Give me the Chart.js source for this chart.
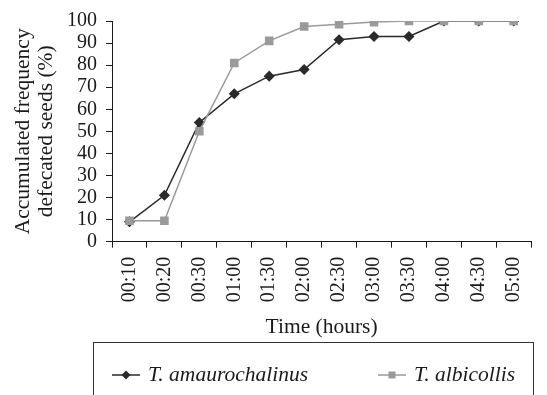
<!DOCTYPE html>
<html>
<head>
<meta charset="utf-8">
<style>
  html, body { margin: 0; padding: 0; background: #fff; }
  #wrap { width: 547px; height: 395px; }
</style>
</head>
<body>
<div id="wrap"><canvas id="seedChart" width="547" height="395"></canvas></div>

<script src="https://cdn.jsdelivr.net/npm/chart.js@4/dist/chart.umd.min.js"></script>
<script>
/* data */
var timeLabels = ["00:10", "00:20", "00:30", "01:00", "01:30", "02:00", "02:30", "03:00", "03:30", "04:00", "04:30", "05:00"];
var amaurochalinus = [9, 21, 54, 67, 75, 78, 91.5, 93, 93, 100, 100, 100];
var albicollis = [9.5, 9.5, 50, 81, 91, 97.5, 98.5, 99.5, 100, 100, 100, 100];
var yTicks = [0, 10, 20, 30, 40, 50, 60, 70, 80, 90, 100];

var serif = "'Liberation Serif', 'Times New Roman', serif";
var ink = "#1a1a1a";
var darkCol = "#2a2a2a";
var greyCol = "#9a9a9a";

/* bordered legend under the axis title, drawn like the original */
var boxLegend = {
    id: 'boxLegend',
    afterDraw: function (chart) {
        var ctx = chart.ctx;
        ctx.save();
        ctx.strokeStyle = "#333";
        ctx.lineWidth = 1;
        ctx.strokeRect(93.5, 342.5, 440, 70);

        var items = [
            { ds: chart.data.datasets[1], x: 112 },
            { ds: chart.data.datasets[0], x: 378 }
        ];
        var y = 375;
        items.forEach(function (it) {
            ctx.strokeStyle = it.ds.borderColor;
            ctx.lineWidth = 1.5;
            ctx.beginPath();
            ctx.moveTo(it.x, y);
            ctx.lineTo(it.x + 28, y);
            ctx.stroke();
            ctx.fillStyle = it.ds.pointBackgroundColor;
            var cx = it.x + 14;
            ctx.beginPath();
            if (it.ds.pointStyle === 'rectRot') {
                ctx.moveTo(cx, y - 4.5);
                ctx.lineTo(cx + 4.5, y);
                ctx.lineTo(cx, y + 4.5);
                ctx.lineTo(cx - 4.5, y);
                ctx.closePath();
            } else {
                ctx.rect(cx - 3.5, y - 3.5, 7, 7);
            }
            ctx.fill();
            ctx.fillStyle = ink;
            ctx.font = "italic 21.5px " + serif;
            ctx.textBaseline = "middle";
            ctx.textAlign = "left";
            ctx.fillText(it.ds.label, it.x + 36, y);
        });
        ctx.restore();
    }
};

var ctx = document.getElementById("seedChart");
var myChart = new Chart(ctx, {
    type: 'line',
    data: {
        labels: timeLabels,
        datasets: [{
            label: "T. albicollis",
            data: albicollis,
            order: 0,
            borderColor: greyCol,
            backgroundColor: greyCol,
            pointBackgroundColor: greyCol,
            pointBorderColor: greyCol,
            pointStyle: 'rect',
            pointRadius: 5,
            borderWidth: 1.5,
            tension: 0
        }, {
            label: "T. amaurochalinus",
            data: amaurochalinus,
            order: 1,
            borderColor: darkCol,
            backgroundColor: darkCol,
            pointBackgroundColor: darkCol,
            pointBorderColor: darkCol,
            pointStyle: 'rectRot',
            pointRadius: 4.5,
            borderWidth: 1.5,
            tension: 0
        }]
    },
    options: {
        responsive: false,
        animation: false,
        events: [],
        layout: { padding: { left: 12, right: 3, top: 12, bottom: 55 } },
        plugins: {
            legend: { display: false },
            tooltip: { enabled: false }
        },
        scales: {
            x: {
                offset: true,
                grid: {
                    offset: true,
                    drawOnChartArea: false,
                    drawTicks: true,
                    tickLength: 6,
                    color: ink
                },
                border: { color: ink, width: 1 },
                ticks: {
                    color: ink,
                    font: { family: serif, size: 20 },
                    minRotation: 90,
                    maxRotation: 90,
                    padding: 9,
                    autoSkip: false
                },
                title: {
                    display: true,
                    text: "Time (hours)",
                    color: ink,
                    font: { family: serif, size: 21.5 },
                    padding: { top: 3, bottom: 0 }
                }
            },
            y: {
                min: 0,
                max: 100,
                afterBuildTicks: function (axis) {
                    axis.ticks = yTicks.map(function (v) { return { value: v }; });
                },
                grid: {
                    drawOnChartArea: false,
                    drawTicks: true,
                    tickLength: 6,
                    color: ink
                },
                border: { color: ink, width: 1 },
                ticks: {
                    color: ink,
                    font: { family: serif, size: 20 },
                    padding: 9,
                    autoSkip: false
                },
                title: {
                    display: true,
                    text: ["Accumulated frequency", "defecated seeds (%)"],
                    color: ink,
                    font: { family: serif, size: 21.5, lineHeight: 1.07 },
                    padding: { top: 0, bottom: 0 }
                }
            }
        }
    },
    plugins: [boxLegend]
});
</script>
</body>
</html>
